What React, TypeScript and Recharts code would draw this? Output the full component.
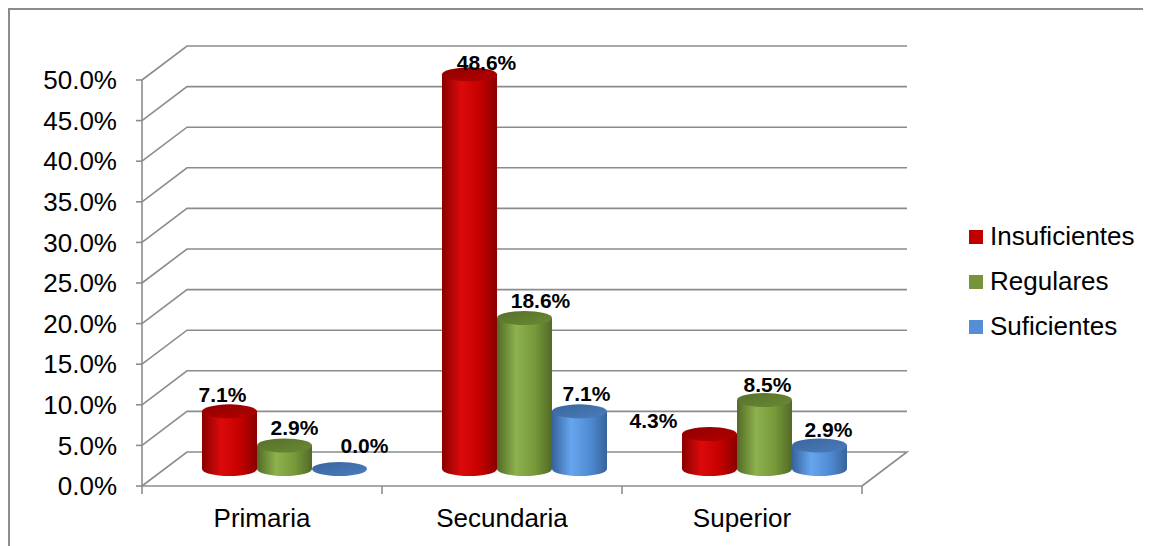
import React from "react";
import { BarChart, Bar, XAxis, YAxis, CartesianGrid, LabelList } from "recharts";

// Education level categories and percentage of each rating within them
const categories = ["Primaria", "Secundaria", "Superior"];
const insuficientes = [7.1, 48.6, 4.3];
const regulares = [2.9, 18.6, 8.5];
const suficientes = [0.0, 7.1, 2.9];
const yTicks = [0, 5, 10, 15, 20, 25, 30, 35, 40, 45, 50];

const seriesNames = ["Insuficientes", "Regulares", "Suficientes"];
const seriesValues = [insuficientes, regulares, suficientes];

const data = categories.map((c, i) => {
  const row: Record<string, string | number> = { name: c };
  seriesNames.forEach((s, k) => {
    row[s] = seriesValues[k][i];
  });
  return row;
});

// Cylinder palettes: body edge, body highlight, top cap, legend swatch
const palettes: Record<string, { edge: string; mid: string; light: string; top1: string; top2: string; swatch: string }> = {
  Insuficientes: { edge: "#8a0000", mid: "#c40000", light: "#dc0a0a", top1: "#8f0000", top2: "#b40000", swatch: "#c00000" },
  Regulares: { edge: "#526a26", mid: "#779739", light: "#8eb24e", top1: "#56702a", top2: "#6a8a34", swatch: "#77933c" },
  Suficientes: { edge: "#36639c", mid: "#4f8ad0", light: "#66a6ee", top1: "#3a659e", top2: "#4a7dbb", swatch: "#558ed5" },
};

// 3D depth of the floor/back wall and the bars' mid-depth offset
const DEPTH_X = 45;
const DEPTH_Y = -34;
const MID_X = 22;
const MID_Y = -17;
const CAP_RY = 7;

// Label placement nudges per series (by category)
const labelShiftX: Record<string, number[]> = {
  Insuficientes: [-7, 17, -56],
  Regulares: [10, 16, 3],
  Suficientes: [25, 7, 9],
};
const labelShiftY: Record<string, number[]> = {
  Insuficientes: [-9, -4, -6],
  Regulares: [-10, -10, -8],
  Suficientes: [-16, -10, -8],
};

const GRID = "#8c8c8c";
const FONT = "'Liberation Sans', Arial, sans-serif";

function Cylinder(props: any) {
  const { x, y, width, height, series, index } = props;
  const p = palettes[series];
  const rx = width / 2;
  const cx = x + rx + MID_X;
  const topY = y + MID_Y;
  const botY = y + height + MID_Y;
  const left = cx - rx;
  const right = cx + rx;
  const id = `cyl-${series}-${index}`;
  const bodyPath = `M${left},${topY} L${left},${botY} A${rx},${CAP_RY} 0 0 0 ${right},${botY} L${right},${topY} Z`;
  return (
    <g>
      <defs>
        <linearGradient id={`${id}-body`} x1="0" y1="0" x2="1" y2="0">
          <stop offset="0%" stopColor={p.edge} />
          <stop offset="35%" stopColor={p.light} />
          <stop offset="70%" stopColor={p.mid} />
          <stop offset="100%" stopColor={p.edge} />
        </linearGradient>
        <linearGradient id={`${id}-top`} x1="0" y1="0" x2="1" y2="1">
          <stop offset="0%" stopColor={p.top1} />
          <stop offset="100%" stopColor={p.top2} />
        </linearGradient>
      </defs>
      {height > 0.5 && <path d={bodyPath} fill={`url(#${id}-body)`} />}
      <ellipse cx={cx} cy={topY} rx={rx} ry={CAP_RY} fill={`url(#${id}-top)`} />
    </g>
  );
}

function makeLabel(series: string) {
  return (props: any) => {
    const vb = props.viewBox || {};
    const x = props.x ?? vb.x;
    const y = props.y ?? vb.y;
    const width = props.width ?? vb.width;
    const index = props.index ?? 0;
    const value = Number(props.value);
    const cx = x + width / 2 + MID_X + labelShiftX[series][index];
    const cy = y + MID_Y + labelShiftY[series][index];
    return (
      <text x={cx} y={cy} textAnchor="middle" fontFamily={FONT} fontWeight="bold" fontSize={21} fill="#000">
        {value.toFixed(1)}%
      </text>
    );
  };
}

// Horizontal gridlines drawn as a left wall diagonal plus the back-wall line
function wallLine(props: any) {
  const { x1, y1, x2, key } = props;
  const bottom = props.y + props.height;
  const isFloor = Math.abs(y1 - bottom) < 0.5;
  let d = `M${x1},${y1} L${x1 + DEPTH_X},${y1 + DEPTH_Y} L${x2 + DEPTH_X},${y1 + DEPTH_Y}`;
  if (isFloor) d += ` L${x2},${y1}`;
  return <path key={key} d={d} fill="none" stroke={GRID} strokeWidth={1.6} />;
}

// Category boundary ticks below the floor
function boundaryTick(props: any) {
  const { x1, y2, key } = props;
  return <line key={key} x1={x1} x2={x1} y1={y2} y2={y2 + 8} stroke={GRID} strokeWidth={1.6} />;
}

function Legend() {
  return (
    <div
      style={{
        position: "absolute",
        left: 959,
        top: 204,
        display: "flex",
        flexDirection: "column",
        fontFamily: FONT,
        fontSize: 26,
      }}
    >
      {seriesNames.map((s) => (
        <div key={s} style={{ display: "flex", alignItems: "center", height: 45 }}>
          <span style={{ width: 14, height: 14, background: palettes[s].swatch, marginRight: 7, display: "inline-block" }} />
          <span style={{ color: "#000" }}>{s}</span>
        </div>
      ))}
    </div>
  );
}

export default function App() {
  return (
    <div
      style={{
        position: "relative",
        width: 1143,
        height: 538,
        borderLeft: `2px solid ${GRID}`,
        borderTop: `2px solid ${GRID}`,
        boxSizing: "border-box",
        background: "#fff",
      }}
    >
      <BarChart
        width={1141}
        height={536}
        data={data}
        margin={{ top: 70, right: 289, bottom: 20, left: 0 }}
        barGap={0}
        barCategoryGap="15.6%"
      >
        <CartesianGrid
          horizontal={wallLine}
          vertical={boundaryTick}
          verticalCoordinatesGenerator={({ offset }: any) =>
            categories.map((_, i) => offset.left + (offset.width * i) / categories.length).concat(offset.left + offset.width)
          }
        />
        <XAxis
          dataKey="name"
          tickLine={false}
          tickSize={6}
          tickMargin={17}
          height={40}
          axisLine={{ stroke: GRID, strokeWidth: 1.6 }}
          tick={{ fill: "#000", fontSize: 26, fontFamily: FONT }}
        />
        <YAxis
          domain={[0, 50]}
          ticks={yTicks}
          width={132}
          tickSize={6}
          tickMargin={19}
          tickFormatter={(v: number) => `${v.toFixed(1)}%`}
          axisLine={{ stroke: GRID, strokeWidth: 1.6 }}
          tickLine={{ stroke: GRID, strokeWidth: 1.6 }}
          tick={{ fill: "#000", fontSize: 26, fontFamily: FONT }}
          interval={0}
        />
        {seriesNames.map((s) => (
          <Bar
            key={s}
            dataKey={s}
            barSize={55}
            isAnimationActive={false}
            shape={(p: any) => <Cylinder {...p} series={s} />}
          >
            <LabelList dataKey={s} content={makeLabel(s)} />
          </Bar>
        ))}
      </BarChart>
      <Legend />
    </div>
  );
}
